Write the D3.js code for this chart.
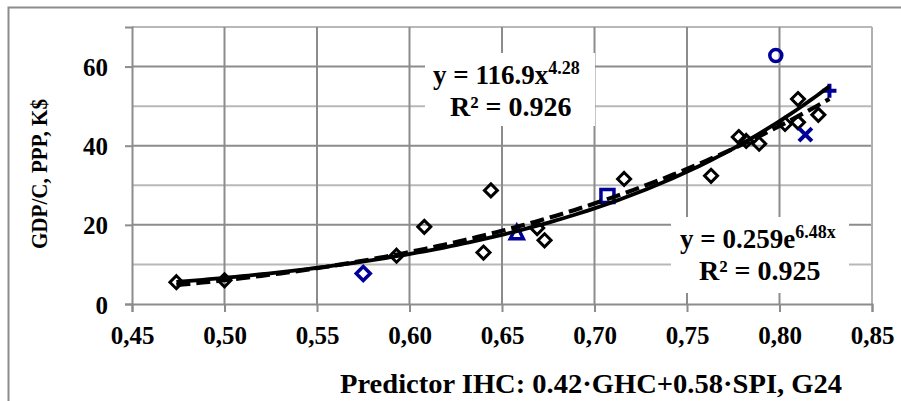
<!DOCTYPE html>
<html>
<head>
<meta charset="utf-8">
<script src="https://cdn.jsdelivr.net/npm/d3@7/dist/d3.min.js"></script>
<style>
  html, body { margin: 0; padding: 0; background: #fff; }
  svg { display: block; }
  text { font-family: "Liberation Serif", "Times New Roman", serif; font-weight: bold; fill: #000; }
</style>
</head>
<body>
<svg id="chart" width="901" height="401"></svg>
<script>
// Countries: predictor IHC vs GDP per capita (PPP, thousand $)
const otherX = [0.474, 0.500, 0.593, 0.608, 0.640, 0.644, 0.669, 0.673, 0.716, 0.763, 0.778, 0.789, 0.782, 0.803, 0.810, 0.810, 0.821];
const otherY = [5.5, 6.0, 12.2, 19.5, 13.0, 28.7, 19.2, 16.1, 31.6, 32.4, 42.2, 40.5, 41.2, 45.5, 45.9, 51.8, 47.8];

// Highlighted countries, each with its own marker
const hiNames  = ["diamond", "triangle", "square", "circle", "cross", "plus"];
const hiX      = [0.575, 0.658, 0.707, 0.798, 0.814, 0.827];
const hiY      = [7.7, 18.0, 27.3, 62.8, 42.8, 53.9];

// Trend lines: power and exponential fits
const powA = 116.9, powB = 4.28, powR2 = "0.926";
const expA = 0.259, expB = 6.48, expR2 = "0.925";
const trendFrom = 0.474, trendTo = 0.827;

const xTicks = [0.45, 0.50, 0.55, 0.60, 0.65, 0.70, 0.75, 0.80, 0.85];
const yTicks = [0, 20, 40, 60];
const yGrid  = [10, 20, 30, 40, 50, 60, 70];

const svg = d3.select("#chart");
const W = 901, H = 401;
const BLUE = "#000099";
const FONT = '"Liberation Serif", "Times New Roman", serif';

svg.append("rect").attr("width", W).attr("height", H).attr("fill", "#fff");

// outer frame (only top and left edges fall inside the view)
svg.append("path").attr("d", `M8.5,${H} V7.5 H${W}`)
  .attr("fill", "none").attr("stroke", "#8c8c8c").attr("stroke-width", 2);

const x = d3.scaleLinear().domain([0.45, 0.85]).range([132, 872]);
const y = d3.scaleLinear().domain([0, 70]).range([304, 27]);

// gridlines
const grid = svg.append("g");
grid.selectAll("line.h").data(yGrid).join("line")
  .attr("x1", x(0.45)).attr("x2", x(0.85))
  .attr("y1", d => y(d)).attr("y2", d => y(d))
  .attr("stroke", d => d % 20 === 0 ? "#8c8c8c" : "#b8b8b8")
  .attr("stroke-width", 2);
grid.selectAll("line.v").data(xTicks.slice(1)).join("line")
  .attr("x1", d => x(d)).attr("x2", d => x(d))
  .attr("y1", y(70)).attr("y2", y(0))
  .attr("stroke", (d, i, a) => i === a.length - 1 ? "#b0b0b0" : "#8c8c8c")
  .attr("stroke-width", 2);

// axes
const yAxis = d3.axisLeft(y).tickValues(yTicks).tickSize(7).tickPadding(17).tickFormat(d3.format("d"));
const xAxis = d3.axisBottom(x).tickValues(xTicks).tickSize(8).tickPadding(14)
  .tickFormat(d => d3.format(".2f")(d).replace(".", ","));

const gy = svg.append("g").attr("transform", `translate(${x(0.45)},0)`).call(yAxis);
const gx = svg.append("g").attr("transform", `translate(0,${y(0)})`).call(xAxis);
[gx, gy].forEach(g => {
  g.select(".domain").attr("stroke", "#8c8c8c").attr("stroke-width", 2);
  g.selectAll(".tick line").attr("stroke", "#8c8c8c").attr("stroke-width", 2);
  g.selectAll(".tick text").attr("font-size", 25)
    .attr("font-family", FONT).attr("font-weight", "bold").attr("fill", "#000");
});
gy.selectAll(".tick text").attr("dy", "0.36em");

// equation boxes
function eqBox(x0, y0, x1, y1) {
  svg.append("rect").attr("x", x0).attr("y", y0).attr("width", x1 - x0).attr("height", y1 - y0).attr("fill", "#fff");
}
eqBox(425, 53, 595, 126);
eqBox(671, 217, 849, 293);

// markers
const marks = svg.append("g");
const dia = s => `M0,${-s}L${s},0L0,${s}L${-s},0Z`;
marks.selectAll("path.o").data(otherX).join("path")
  .attr("d", dia(6.5))
  .attr("transform", (d, i) => `translate(${x(d)},${y(otherY[i])})`)
  .attr("fill", "none").attr("stroke", "#000").attr("stroke-width", 3);

const shapes = {
  diamond: () => dia(7),
  triangle: () => "M0,-7L6.5,6L-6.5,6Z",
  square: () => "M-6.5,-6.5H6.5V6.5H-6.5Z",
  circle: () => "M6,0A6,6 0 1,1 -6,0A6,6 0 1,1 6,0Z",
  cross: () => "M-6.5,-6.5L6.5,6.5M6.5,-6.5L-6.5,6.5",
  plus: () => "M-7,0H7M0,-7V7"
};
marks.selectAll("path.h").data(hiX).join("path")
  .attr("d", (d, i) => shapes[hiNames[i]]())
  .attr("transform", (d, i) => `translate(${x(d)},${y(hiY[i])})`)
  .attr("fill", "none").attr("stroke", BLUE)
  .attr("stroke-width", (d, i) => (hiNames[i] === "cross" || hiNames[i] === "plus") ? 4 : 3.5);

// trend curves
const xs = d3.range(0, 101).map(k => trendFrom + (trendTo - trendFrom) * k / 100);
const line = d3.line().x(d => x(d[0])).y(d => y(d[1]));
svg.append("path").datum(xs.map(v => [v, expA * Math.exp(expB * v)]))
  .attr("d", line).attr("fill", "none").attr("stroke", "#000").attr("stroke-width", 3.8);
svg.append("path").datum(xs.map(v => [v, powA * Math.pow(v, powB)]))
  .attr("d", line).attr("fill", "none").attr("stroke", "#000").attr("stroke-width", 4.2)
  .attr("stroke-dasharray", "14,6");

// equation labels
function eqLine(x0, base, main, sup, size) {
  const t = svg.append("text").attr("x", x0).attr("y", base).attr("font-size", size);
  t.append("tspan").text(main);
  if (sup) t.append("tspan").attr("dy", -10).attr("font-size", 18).text(sup);
  return t;
}
eqLine(433, 84, "y = " + powA + "x", powB.toFixed(2), 27);
eqLine(450, 116, "R² = " + powR2, null, 28);
eqLine(680, 248, "y = " + expA + "e", expB.toFixed(2) + "x", 27);
eqLine(699, 280, "R² = " + expR2, null, 28);

// axis titles
svg.append("text").attr("x", 340).attr("y", 393).attr("font-size", 27)
  .attr("textLength", 502).attr("lengthAdjust", "spacingAndGlyphs")
  .text("Predictor IHC: 0.42·GHC+0.58·SPI, G24");
svg.append("text").attr("transform", "translate(47,174) rotate(-90)")
  .attr("text-anchor", "middle").attr("font-size", 24)
  .attr("textLength", 150).attr("lengthAdjust", "spacingAndGlyphs")
  .text("GDP/C, PPP, K$");
</script>
</body>
</html>
